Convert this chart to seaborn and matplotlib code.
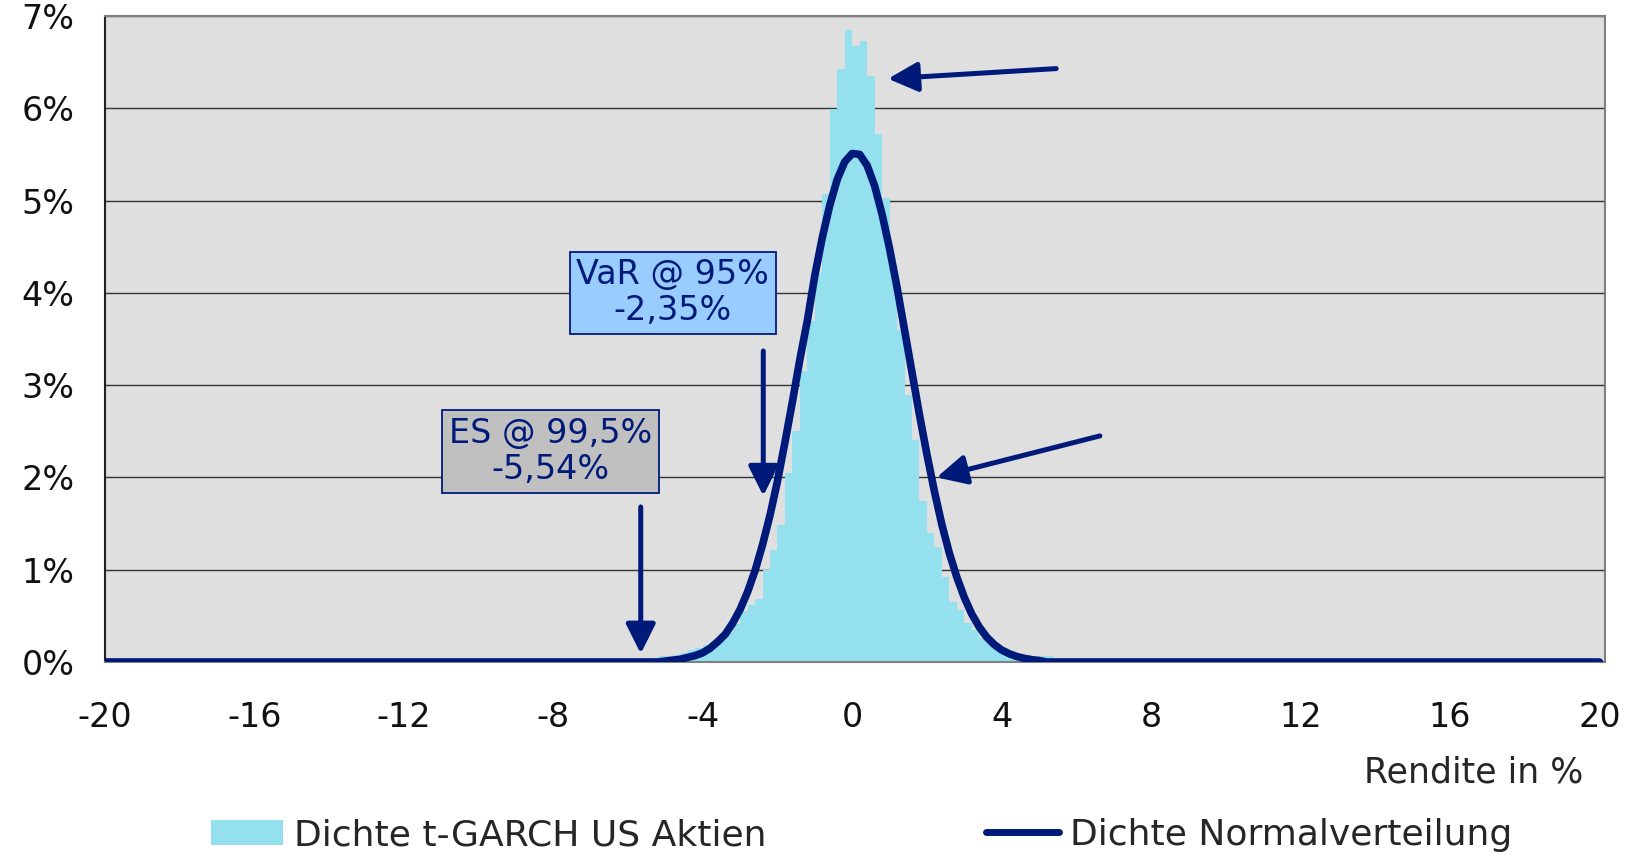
import matplotlib
matplotlib.use("Agg")
import matplotlib.pyplot as plt
from matplotlib.lines import Line2D
from matplotlib.patches import Patch
import seaborn as sns

# Histogram of t-GARCH returns: bin centres (Rendite in %) and share per 0.2 bin (%)
bin_centers = [-5.5, -5.3, -5.1, -4.9, -4.7, -4.5, -4.3, -4.1, -3.9, -3.7, -3.5, -3.3, -3.1, -2.9,
               -2.7, -2.5, -2.3, -2.1, -1.9, -1.7, -1.5, -1.3, -1.1, -0.9, -0.7, -0.5, -0.3, -0.1,
               0.1, 0.3, 0.5, 0.7, 0.9, 1.1, 1.3, 1.5, 1.7, 1.9, 2.1, 2.3, 2.5, 2.7, 2.9,
               3.1, 3.3, 3.5, 3.7, 3.9, 4.1, 4.3, 4.5, 4.7, 4.9, 5.1, 5.3, 5.5]
garch_share = [0.03, 0.04, 0.06, 0.07, 0.08, 0.10, 0.13, 0.15, 0.18, 0.22, 0.27, 0.33, 0.41, 0.55,
               0.62, 0.68, 1.00, 1.21, 1.48, 2.05, 2.50, 3.15, 3.69, 4.21, 5.07, 5.99, 6.43, 6.85,
               6.68, 6.73, 6.35, 5.72, 5.03, 4.30, 3.60, 2.89, 2.41, 1.75, 1.40, 1.25, 0.92, 0.65, 0.56,
               0.42, 0.35, 0.26, 0.20, 0.16, 0.13, 0.10, 0.09, 0.08, 0.07, 0.06, 0.065, 0.03]

# Normal density curve (%), read along the x axis
curve_x = [-20, -5.2, -5.0, -4.8, -4.6, -4.4, -4.2, -4.0, -3.8, -3.6, -3.4, -3.2, -3.0, -2.8, -2.6,
           -2.4, -2.2, -2.0, -1.8, -1.6, -1.4, -1.2, -1.0, -0.8, -0.6, -0.4, -0.2, 0.0,
           0.2, 0.4, 0.6, 0.8, 1.0, 1.2, 1.4, 1.6, 1.8, 2.0, 2.2, 2.4, 2.6, 2.8, 3.0,
           3.2, 3.4, 3.6, 3.8, 4.0, 4.2, 4.4, 4.6, 4.8, 5.0, 5.2, 20]
curve_y = [0.0, 0.0, 0.01, 0.02, 0.03, 0.05, 0.07, 0.10, 0.15, 0.22, 0.30, 0.42, 0.57, 0.76, 0.99,
           1.27, 1.59, 1.96, 2.38, 2.82, 3.28, 3.70, 4.19, 4.60, 4.95, 5.23, 5.42, 5.51,
           5.50, 5.38, 5.16, 4.85, 4.48, 4.06, 3.60, 3.14, 2.68, 2.25, 1.85, 1.49, 1.18, 0.92, 0.70,
           0.52, 0.38, 0.27, 0.19, 0.13, 0.09, 0.06, 0.04, 0.025, 0.016, 0.0, 0.0]

x_ticks = [-20, -16, -12, -8, -4, 0, 4, 8, 12, 16, 20]
x_tick_labels = ["-20", "-16", "-12", "-8", "-4", "0", "4", "8", "12", "16", "20"]
y_ticks = [0, 1, 2, 3, 4, 5, 6, 7]
y_tick_labels = ["0%", "1%", "2%", "3%", "4%", "5%", "6%", "7%"]

NAVY = "#001a7a"
CYAN = "#94e0ee"

sns.set_style("white")
plt.rcParams["font.family"] = ["DejaVu Sans"]

fig = plt.figure(figsize=(16.28, 8.56), dpi=100)
ax = fig.add_axes([105 / 1628, 1 - 662 / 856, 1500 / 1628, 646 / 856])
ax.set_facecolor("#dfdfdf")

sns.histplot(x=bin_centers, weights=garch_share, binwidth=0.2, binrange=(-5.6, 5.6),
             color=CYAN, alpha=1, linewidth=0, ax=ax, zorder=2)
sns.lineplot(x=curve_x, y=curve_y, color=NAVY, linewidth=5.5, ax=ax, zorder=3)

ax.set_xlim(-20, 20.15)
ax.set_ylim(0, 7)
ax.set_xticks(x_ticks)
ax.set_xticklabels(x_tick_labels)
ax.set_yticks(y_ticks)
ax.set_yticklabels(y_tick_labels)
ax.tick_params(axis="both", labelsize=24, colors="#111111", length=10, width=1, direction="out")
ax.tick_params(axis="x", pad=18)
ax.tick_params(axis="y", pad=12)
ax.yaxis.grid(True, color="#333333", linewidth=1)
ax.set_axisbelow(True)
ax.set_ylabel("")
ax.set_xlabel("Rendite in %", fontsize=25, ha="right")
ax.xaxis.set_label_coords((1583 - 105) / 1500, -0.145)

for side in ["top", "right", "bottom"]:
    ax.spines[side].set_color("#808080")
    ax.spines[side].set_linewidth(1.5)
ax.spines["left"].set_color("#222222")
ax.spines["left"].set_linewidth(1.5)

# annotation boxes
ax.text(-4.8, 4.0, "VaR @ 95%\n-2,35%", ha="center", va="center", fontsize=24,
        color=NAVY, linespacing=1.12, zorder=5,
        bbox=dict(boxstyle="square,pad=0.2", fc="#99ccff", ec=NAVY, lw=1.3))
ax.text(-8.08, 2.28, "ES @ 99,5%\n-5,54%", ha="center", va="center", fontsize=24,
        color=NAVY, linespacing=1.12, zorder=5,
        bbox=dict(boxstyle="square,pad=0.2", fc="#c0c0c0", ec=NAVY, lw=1.3))

# arrows (tail -> head)
arrows = [((-2.38, 3.37), (-2.38, 1.80)),
          ((-5.66, 1.68), (-5.66, 0.09)),
          ((5.46, 6.43), (0.96, 6.32)),
          ((6.63, 2.45), (2.26, 2.0))]
for tail, head in arrows:
    ax.annotate("", xy=head, xytext=tail, zorder=6,
                arrowprops=dict(arrowstyle="-|>,head_length=0.9,head_width=0.45",
                                mutation_scale=20, lw=3.6, color=NAVY,
                                shrinkA=0, shrinkB=0))

handles = [Patch(facecolor=CYAN, edgecolor="none"),
           Line2D([], [], color=NAVY, lw=5, solid_capstyle="round")]
labels = ["Dichte t-GARCH US Aktien", "Dichte Normalverteilung"]
fig.legend(handles, labels, loc="center", bbox_to_anchor=(0.529, 0.0245), ncol=2,
           frameon=False, fontsize=26, handlelength=2.0, handletextpad=0.3,
           columnspacing=6.1)

fig.savefig("out.png", dpi=100)
